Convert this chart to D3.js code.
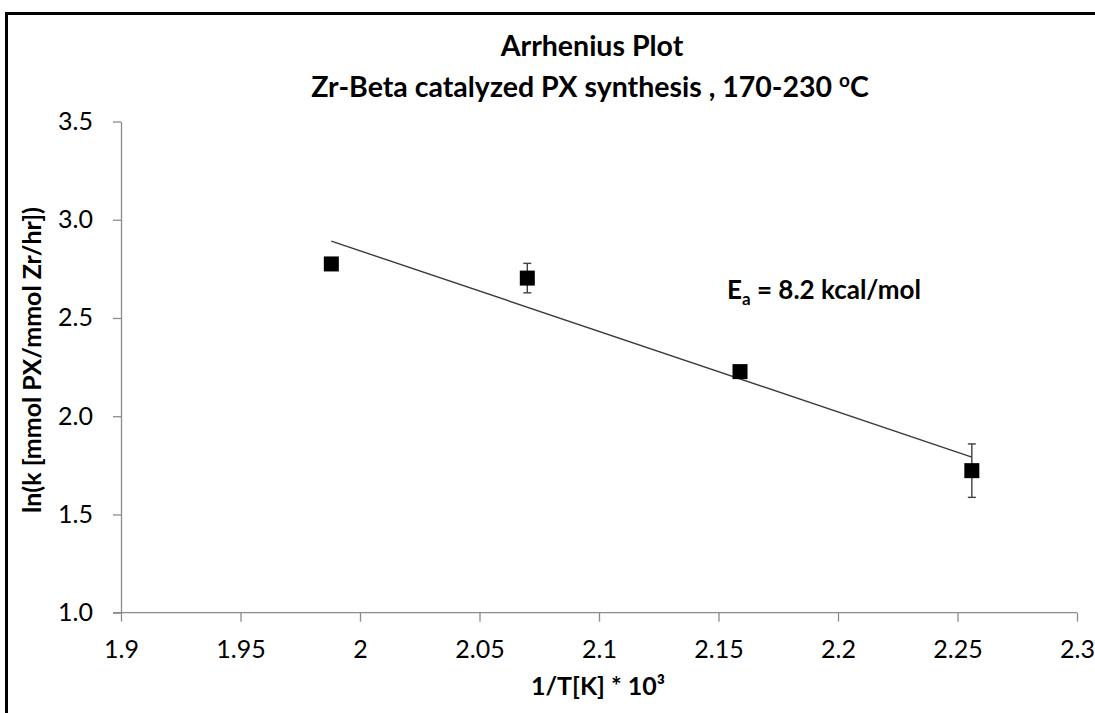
<!DOCTYPE html>
<html>
<head>
<meta charset="utf-8">
<script src="https://cdn.jsdelivr.net/npm/d3@7"></script>
<style>
  html, body { margin: 0; padding: 0; background: #fff; }
  svg { display: block; }
  text { font-family: Lato, "Open Sans", sans-serif; fill: #000; }
</style>
</head>
<body>
<svg id="chart" width="1095" height="713"></svg>
<script>
// ---- data ----
const invT = [1.988, 2.070, 2.159, 2.256];        // 1/T[K] * 10^3
const lnK = [2.775, 2.703, 2.227, 1.723];         // ln(k)
const errs = [0, 0.075, 0, 0.136];                // error bar half-lengths
const xTicks = [1.9, 1.95, 2.0, 2.05, 2.1, 2.15, 2.2, 2.25, 2.3];
const yTicks = [1.0, 1.5, 2.0, 2.5, 3.0, 3.5];
const titleLines = ["Arrhenius Plot", "Zr-Beta catalyzed PX synthesis , 170-230 "];
const annotation = "8.2 kcal/mol";

const svg = d3.select("#chart");
const W = 1095, H = 713;
const mLeft = 121, mRight = 1077, mTop = 121.5, mBottom = 612.7;

// frame: thick left + top border
svg.append("line").attr("x1", 6.5).attr("x2", 6.5).attr("y1", 12).attr("y2", H)
  .attr("stroke", "#000").attr("stroke-width", 3);
svg.append("line").attr("x1", 5).attr("x2", W).attr("y1", 13.5).attr("y2", 13.5)
  .attr("stroke", "#000").attr("stroke-width", 3);

const x = d3.scaleLinear().domain([1.9, 2.3]).range([mLeft, mRight]);
const y = d3.scaleLinear().domain([1.0, 3.5]).range([mBottom, mTop]);

// x axis
const xAxis = svg.append("g").attr("transform", `translate(0,${mBottom})`)
  .call(d3.axisBottom(x).tickValues(xTicks).tickSize(9).tickSizeOuter(0).tickPadding(19)
    .tickFormat(d => String(+d.toFixed(2))));
// y axis
const yAxis = svg.append("g").attr("transform", `translate(${mLeft},0)`)
  .call(d3.axisLeft(y).tickValues(yTicks).tickSize(8).tickSizeOuter(0).tickPadding(20)
    .tickFormat(d3.format(".1f")));
[xAxis, yAxis].forEach(g => {
  g.select(".domain").attr("stroke", "#8c8c8c").attr("stroke-width", 1.3);
  g.selectAll(".tick line").attr("stroke", "#8c8c8c").attr("stroke-width", 1.3);
  g.selectAll(".tick text").attr("font-family", "Lato, 'Open Sans', sans-serif")
    .attr("font-size", 25).attr("fill", "#000");
});
xAxis.select(".domain").attr("d", `M${mLeft - 8},0H${mRight}`);

// trendline: least squares fit
const mx = d3.mean(invT), my = d3.mean(lnK);
const sxy = d3.sum(invT, (v, i) => (v - mx) * (lnK[i] - my));
const sxx = d3.sum(invT, v => (v - mx) ** 2);
const slope = sxy / sxx, icpt = my - slope * mx;
const xr = d3.extent(invT);
svg.append("line")
  .attr("x1", x(xr[0])).attr("y1", y(icpt + slope * xr[0]))
  .attr("x2", x(xr[1])).attr("y2", y(icpt + slope * xr[1]))
  .attr("stroke", "#3a3a3a").attr("stroke-width", 1.4);

// error bars
const eb = svg.append("g").attr("stroke", "#404040").attr("stroke-width", 1.4);
invT.forEach((v, i) => {
  if (!errs[i]) return;
  const cx = x(v);
  eb.append("line").attr("x1", cx).attr("x2", cx).attr("y1", y(lnK[i] - errs[i])).attr("y2", y(lnK[i] + errs[i]));
  [lnK[i] - errs[i], lnK[i] + errs[i]].forEach(e => {
    eb.append("line").attr("x1", cx - 4).attr("x2", cx + 4).attr("y1", y(e)).attr("y2", y(e));
  });
});

// markers
const s = 15;
svg.append("g").selectAll("rect").data(invT).join("rect")
  .attr("x", d => x(d) - s / 2).attr("y", (d, i) => y(lnK[i]) - s / 2)
  .attr("width", s).attr("height", s).attr("fill", "#000");

// titles
svg.append("text").attr("x", 592).attr("y", 56).attr("text-anchor", "middle")
  .attr("font-size", 28.5).attr("font-weight", "bold").text(titleLines[0]);
const t2 = svg.append("text").attr("x", 590).attr("y", 97).attr("text-anchor", "middle")
  .attr("font-size", 28.5).attr("font-weight", "bold");
t2.append("tspan").text(titleLines[1]);
t2.append("tspan").attr("font-size", 19).attr("dy", -10).text("o");
t2.append("tspan").attr("dy", 10).text("C");

// axis titles
svg.append("text").attr("x", 598).attr("y", 695).attr("text-anchor", "middle")
  .attr("font-size", 25).attr("font-weight", "bold").text("1/T[K] * 10³");
svg.append("text").attr("transform", "translate(41,360) rotate(-90)").attr("text-anchor", "middle")
  .attr("font-size", 25).attr("font-weight", "bold").text("ln(k [mmol PX/mmol Zr/hr])");

// annotation
const ann = svg.append("text").attr("x", 727).attr("y", 299)
  .attr("font-size", 26).attr("font-weight", "bold");
ann.append("tspan").text("E");
ann.append("tspan").attr("font-size", 17).attr("dy", 6).text("a");
ann.append("tspan").attr("dy", -6).text(" = " + annotation);
</script>
</body>
</html>
